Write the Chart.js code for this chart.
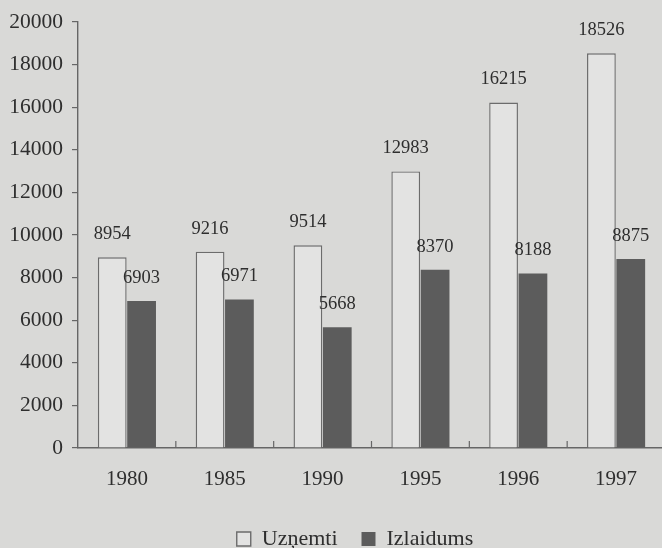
<!DOCTYPE html>
<html>
<head>
<meta charset="utf-8">
<script src="https://cdn.jsdelivr.net/npm/chart.js@4/dist/chart.umd.min.js"></script>
<style>
  html,body{margin:0;padding:0;background:#d9d9d7;overflow:hidden}
  #wrap{position:relative;width:665px;height:560px}
</style>
</head>
<body>
<div id="wrap"><canvas id="c"></canvas></div>
<script>
// dati
const years = ['1980', '1985', '1990', '1995', '1996', '1997'];
const uznemti = [8954, 9216, 9514, 12983, 16215, 18526];
const izlaidums = [6903, 6971, 5668, 8370, 8188, 8875];
const yTicks = [0, 2000, 4000, 6000, 8000, 10000, 12000, 14000, 16000, 18000, 20000];

const serif = '"Liberation Serif", "DejaVu Serif", serif';
const ink = '#2e2e2e';

// vērtības virs stabiņiem
const valueLabels = {
  id: 'valueLabels',
  afterDatasetsDraw(chart) {
    const ctx = chart.ctx;
    ctx.save();
    ctx.font = '18.5px ' + serif;
    ctx.fillStyle = ink;
    ctx.textAlign = 'center';
    ctx.textBaseline = 'middle';
    chart.data.datasets.forEach((ds, di) => {
      chart.getDatasetMeta(di).data.forEach((bar, i) => {
        ctx.fillText(String(ds.data[i]), bar.x, bar.y - 23);
      });
    });
    ctx.restore();
  }
};

// iekšējie iedaļu svītriņi starp kategorijām uz x ass
const innerTicks = {
  id: 'innerTicks',
  afterDraw(chart) {
    const x = chart.scales.x, bottom = chart.chartArea.bottom;
    const ctx = chart.ctx;
    ctx.save();
    ctx.strokeStyle = '#666';
    ctx.lineWidth = 1.2;
    for (let i = 1; i < years.length; i++) {
      const px = (x.getPixelForValue(i - 1) + x.getPixelForValue(i)) / 2;
      ctx.beginPath();
      ctx.moveTo(px, bottom - 7);
      ctx.lineTo(px, bottom);
      ctx.stroke();
    }
    ctx.restore();
  }
};

// leģendu nedaudz pa kreisi, kā oriģinālā
const legendShift = {
  id: 'legendShift',
  afterLayout(chart) {
    if (chart.legend) chart.legend.left -= 33;
  }
};

new Chart(document.getElementById('c'), {
  type: 'bar',
  data: {
    labels: years,
    datasets: [
      {
        label: 'Uzņemti',
        data: uznemti,
        backgroundColor: '#e3e3e2',
        borderColor: '#6c6c6c',
        borderWidth: 1.4,
      },
      {
        label: 'Izlaidums',
        data: izlaidums,
        backgroundColor: '#5c5c5c',
        borderColor: '#5c5c5c',
        borderWidth: 0,
      }
    ]
  },
  options: {
    responsive: true, maintainAspectRatio: false,
    animation: false,
    datasets: { bar: { categoryPercentage: 0.6, barPercentage: 0.98 } },
    layout: { padding: { top: 17, right: 0, left: 0, bottom: 0 } },
    plugins: {
      tooltip: { enabled: false },
      legend: {
        position: 'bottom',
        fullSize: false,
        labels: {
          font: { family: serif, size: 22 },
          color: ink,
          boxWidth: 14, boxHeight: 14,
          padding: 24,
        }
      }
    },
    scales: {
      x: {
        grid: { display: false },
        border: { display: true, color: '#666', width: 1.4 },
        ticks: { font: { family: serif, size: 21 }, color: ink, padding: 11 },
        afterFit(s) { s.height = 56; }
      },
      y: {
        min: 0, max: 20000,
        afterBuildTicks(s) { s.ticks = yTicks.map(v => ({ value: v })); },
        grid: { drawOnChartArea: false, drawTicks: true, tickLength: 6, color: '#666', lineWidth: 1.2 },
        border: { display: true, color: '#666', width: 1.4 },
        ticks: { font: { family: serif, size: 21.5 }, color: ink, padding: 9, callback: v => String(v) },
        afterFit(s) { s.width = 78; }
      }
    }
  },
  plugins: [valueLabels, innerTicks, legendShift]
});
</script>
</body>
</html>
